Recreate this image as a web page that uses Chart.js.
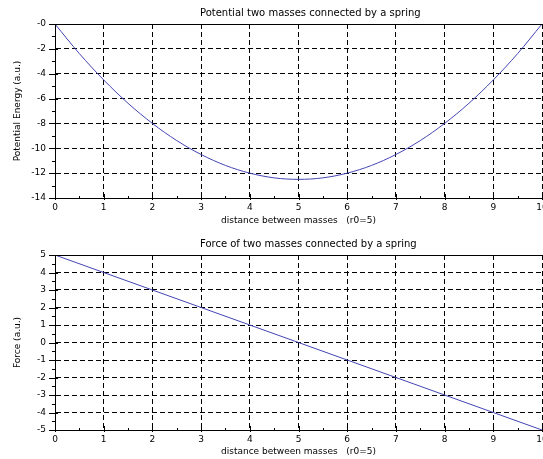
<!DOCTYPE html>
<html>
<head>
<meta charset="utf-8">
<script src="https://cdn.jsdelivr.net/npm/chart.js@4/dist/chart.umd.min.js"></script>
<style>
  body { margin: 0; background: #fff; overflow: hidden; }
  canvas { position: absolute; left: 0; }
  #potential { top: 0; }
  #force { top: 231px; }
</style>
</head>
<body>
<canvas id="potential" width="543" height="230"></canvas>
<canvas id="force" width="543" height="230"></canvas>
<script>
// distance between masses (r0 = 5)
const distance = [0, 0.5, 1, 1.5, 2, 2.5, 3, 3.5, 4, 4.5, 5, 5.5, 6, 6.5, 7, 7.5, 8, 8.5, 9, 9.5, 10];
const potential = [0, -2.38, -4.5, -6.38, -8, -9.38, -10.5, -11.38, -12, -12.38, -12.5,
  -12.38, -12, -11.38, -10.5, -9.38, -8, -6.38, -4.5, -2.38, 0];

const forceDistance = [0, 1, 2, 3, 4, 5, 6, 7, 8, 9, 10];
const force = [5, 4, 3, 2, 1, 0, -1, -2, -3, -4, -5];

const FONT = { family: 'DejaVu Sans', size: 9 };
const LINE_COLOR = '#4444b4';

Chart.defaults.font = FONT;
Chart.defaults.color = '#000';

// title over the plot area, solid top frame and scilab style tick marks
const framePlugin = {
  id: 'frame',
  afterDraw(chart, args, opts) {
    const { ctx, chartArea } = chart;
    const x = chart.scales.x;
    const y = chart.scales.y;
    ctx.save();
    ctx.strokeStyle = '#000';
    ctx.lineWidth = 1;
    ctx.beginPath();
    ctx.moveTo(chartArea.left, chartArea.top + 0.5);
    ctx.lineTo(chartArea.right, chartArea.top + 0.5);
    ctx.stroke();

    ctx.beginPath();
    for (let v = x.min; v <= x.max + 1e-9; v += 0.5) {
      const px = Math.round(x.getPixelForValue(v)) + 0.5;
      const major = Math.abs(v - Math.round(v)) < 1e-9;
      ctx.moveTo(px, chartArea.bottom + (major ? 2 : 0));
      ctx.lineTo(px, chartArea.bottom - (major ? 4 : 2));
    }
    for (let v = y.min; v <= y.max + 1e-9; v += opts.yMinor) {
      const py = Math.round(y.getPixelForValue(v)) + 0.5;
      const major = Math.abs(v / opts.yMajor - Math.round(v / opts.yMajor)) < 1e-9;
      ctx.moveTo(chartArea.left - (major ? 6 : 3), py);
      ctx.lineTo(chartArea.left + (major ? 3 : 1), py);
    }
    ctx.stroke();

    // the title sits a little right of the plot centre in the original
    ctx.fillStyle = '#000';
    ctx.font = '10px ' + FONT.family;
    ctx.textAlign = 'left';
    ctx.textBaseline = 'middle';
    ctx.fillText(opts.text, 200, 13);
    ctx.restore();
  }
};

function makeChart(id, xs, ys, yMin, yMax, yStep, yMinor, title, yTitle, tickFmt) {
  const points = xs.map((v, i) => ({ x: v, y: ys[i] }));
  return new Chart(document.getElementById(id), {
    type: 'line',
    data: {
      datasets: [{
        data: points,
        borderColor: LINE_COLOR,
        borderWidth: 1,
        pointRadius: 0,
        cubicInterpolationMode: 'monotone',
        fill: false
      }]
    },
    options: {
      responsive: false,
      animation: false,
      layout: { padding: { top: 24, right: 1, left: 0, bottom: 0 } },
      plugins: {
        legend: { display: false },
        tooltip: { enabled: false },
        frame: { text: title, yMajor: yStep, yMinor: yMinor }
      },
      scales: {
        x: {
          type: 'linear',
          min: 0,
          max: 10,
          ticks: { stepSize: 1, padding: 4, maxRotation: 0 },
          grid: { color: '#000', drawTicks: false },
          border: { color: '#000', width: 1, dash: [5, 3] },
          title: {
            display: true,
            text: 'distance between masses   (r0=5)',
            padding: { top: 0, bottom: 4 }
          },
          afterFit(scale) {
            scale.height = 230 - 24 - (id === 'force' ? 175 : 174);
            scale.paddingLeft = 0;
            scale.paddingRight = 0;
          }
        },
        y: {
          min: yMin,
          max: yMax,
          ticks: { stepSize: yStep, padding: 9, callback: tickFmt },
          grid: { color: '#000', drawTicks: false },
          border: { color: '#000', width: 1, dash: [5, 3] },
          title: {
            display: true,
            text: yTitle,
            padding: { top: 12, bottom: 0 }
          },
          afterFit(scale) {
            scale.width = 55;
            scale.paddingTop = 0;
            scale.paddingBottom = 0;
          }
        }
      }
    },
    plugins: [framePlugin]
  });
}

makeChart('potential', distance, potential, -14, 0, 2, 1,
  'Potential two masses connected by a spring', 'Potential Energy (a.u.)',
  v => (v === 0 ? '-0' : v));

makeChart('force', forceDistance, force, -5, 5, 1, 0.5,
  'Force of two masses connected by a spring', 'Force (a.u.)',
  v => v);
</script>
</body>
</html>
